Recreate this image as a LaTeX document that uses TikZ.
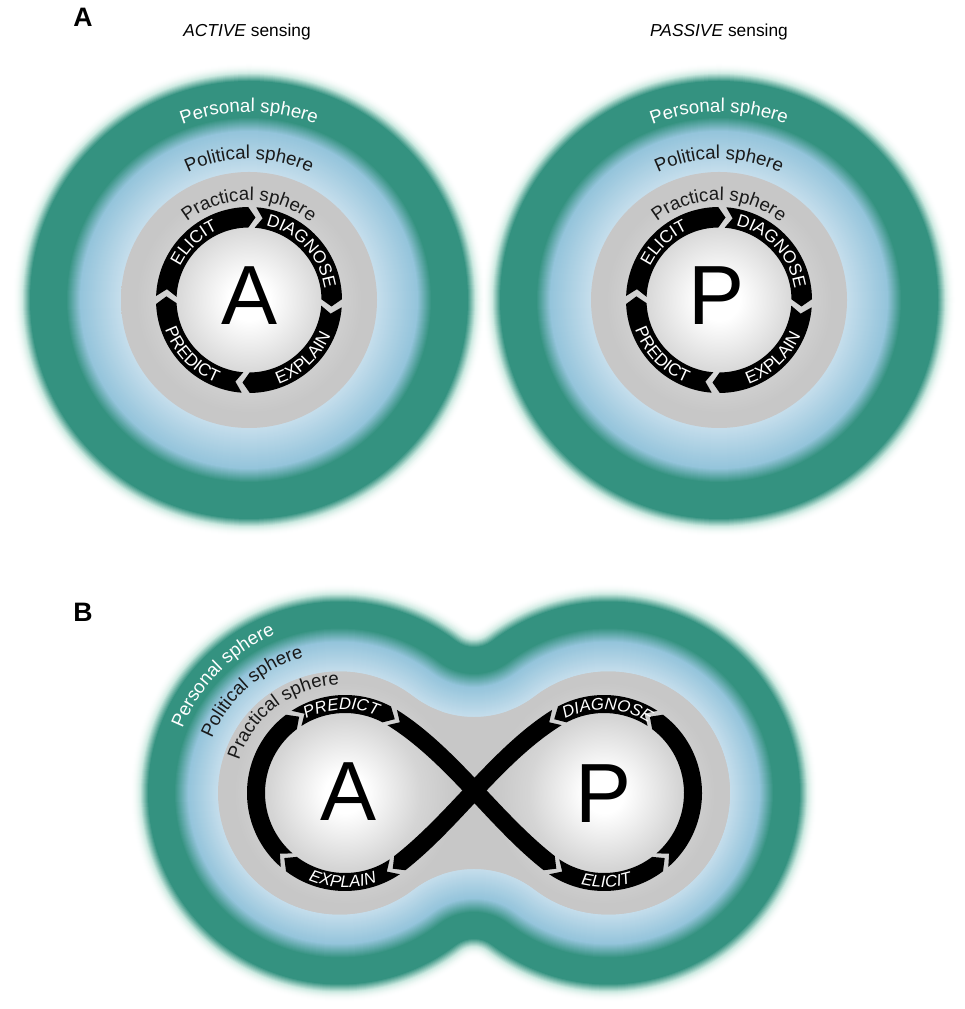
\documentclass[tikz,border=0pt]{standalone}
\usepackage{fontspec}
\setmainfont{Liberation Sans}
\setsansfont{Liberation Sans}
\usetikzlibrary{calc,decorations.text}
\definecolor{teal0}{RGB}{52,146,128}
\definecolor{glow0}{RGB}{205,234,225}
\definecolor{blue0}{RGB}{148,196,219}
\definecolor{blueL}{RGB}{198,222,236}
\definecolor{gray0}{RGB}{199,199,199}
\definecolor{ink}{RGB}{25,25,25}
\pgfdeclareradialshading{grayball}{\pgfpointorigin}{color(0bp)=(white); color(4bp)=(white); color(15bp)=(gray0!75!white); color(22bp)=(gray0); color(25bp)=(gray0); color(50bp)=(gray0)}
% colour of a layer at depth #1 below the outer edge; #2 teal width, #3 blue width
\newcommand\setlayercolor[3]{%
  \pgfmathsetmacro\lcd{#1}%
  \pgfmathsetmacro\lcT{#2}%
  \pgfmathsetmacro\lcU{#3}%
  \ifdim\lcd pt<-8pt
    \pgfmathsetmacro\lcp{100*((\lcd+18)/10)*((\lcd+18)/10)}%
    \colorlet{lc}{glow0!\lcp!white}%
  \else\ifdim\lcd pt<0pt
    \pgfmathsetmacro\lcp{100*((\lcd+8)/8)}%
    \colorlet{lc}{teal0!\lcp!glow0}%
  \else
    \pgfmathsetmacro\lca{\lcT-9}%
    \ifdim\lcd pt<\lca pt
      \colorlet{lc}{teal0}%
    \else
      \pgfmathsetmacro\lcb{\lcT+5}%
      \ifdim\lcd pt<\lcb pt
        \pgfmathsetmacro\lcp{100*(\lcb-\lcd)/14}%
        \colorlet{lc}{teal0!\lcp!blue0}%
      \else
        \pgfmathsetmacro\lcp{100*min(1,(\lcd-\lcb)/(\lcT+\lcU-\lcb))}%
        \colorlet{lc}{blueL!\lcp!blue0}%
      \fi
    \fi
  \fi\fi}
\newcommand\peanutcalc[1]{%
  \pgfmathsetmacro\pnR{191.5-(#1)}%
  \pgfmathsetmacro\pnr{max(30+(#1),0.5)}%
  \pgfmathsetmacro\pnh{10*sqrt(((\pnR+\pnr)/10)^2-180.9025)}%
  \pgfmathsetmacro\pnb{atan2(\pnh,134.5)}}
\newcommand\peanutpath{($(339.5,216)+(\pnb:\pnR)$) arc[start angle={180+\pnb},end angle={360-\pnb},radius=\pnr] arc[start angle={180-\pnb},end angle={\pnb-180},radius=\pnR] arc[start angle=\pnb,end angle={180-\pnb},radius=\pnr] arc[start angle={-\pnb},end angle={\pnb-360},radius=\pnR] -- cycle}
% curved arrow piece: centre, inner r, outer r, tail angle, head angle, tip offset
\newcommand\arcarrow[6]{%
  \fill[black] ($(#1)+(#4:#3)$) arc[start angle=#4,end angle=#5,radius=#3]
    -- ($(#1)+({#5-(#6)}:{(#2+#3)/2})$)
    -- ($(#1)+(#5:#2)$) arc[start angle=#5,end angle=#4,radius=#2]
    -- ($(#1)+({#4-(#6)}:{(#2+#3)/2})$) -- cycle;}
\newcommand\arctext[6]{%
  \path[decorate,decoration={text along path,text={|#5|#6},text align=center}]
    ($(#1)+(#3:#2)$) arc[start angle=#3,end angle=#4,radius=#2];}
\newcommand\sphfont{\fontsize{14}{16}\selectfont}
\newcommand\arrfont{\fontsize{13}{15}\selectfont}
\newcommand\arrfontB{\fontsize{12.5}{14}\selectfont\itshape}
\newcommand\bigfont{\fontsize{63}{70}\selectfont}
\begin{document}
\begin{tikzpicture}[x=0.75pt,y=0.75pt]
\useasboundingbox (0,0) rectangle (964,1009);
\fill[white] (0,0) rectangle (964,1009);
% ---------------- panel A ----------------
\coordinate (cA) at (249,709);
\coordinate (cP) at (719,709);
\foreach \d in {-18,...,90}{%
  \setlayercolor{\d}{45}{46}%
  \fill[lc] (cA) circle[radius={219-(\d)}];
  \fill[lc] (cP) circle[radius={219-(\d)}];
}
\foreach \c in {cA,cP}{%
  \shade[shading=grayball] (\c) circle[radius=128];
  \arcarrow{\c}{72.5}{93}{177.5}{90.5}{5}
  \arcarrow{\c}{72.5}{93}{85.5}{0.5}{5}
  \arcarrow{\c}{72.5}{93}{-4.5}{-89.5}{5}
  \arcarrow{\c}{72.5}{93}{-94.5}{-177.5}{5}
  \arctext{\c}{76.5}{175}{93}{\arrfont\color{white}}{ELICIT}
  \arctext{\c}{76.5}{84}{2}{\arrfont\color{white}}{DIAGNOSE}
  \arctext{\c}{89}{-88}{-6}{\arrfont\color{white}}{EXPLAIN}
  \arctext{\c}{89}{183}{265}{\arrfont\color{white}}{PREDICT}
  \arctext{\c}{188}{150}{30}{\sphfont\color{white}}{Personal sphere}
  \arctext{\c}{141}{150}{30}{\sphfont\color{ink}}{Political sphere}
  \arctext{\c}{99.5}{150}{30}{\sphfont\color{ink}}{Practical sphere}
}
\node[font=\bigfont] (bigA) at (250,713) {A};
\node[font=\bigfont] (bigP) at (717,713) {P};
\node[anchor=base,font=\fontsize{13}{15}\selectfont] (titleA) at (247,972) {\textit{ACTIVE} sensing};
\node[anchor=base,font=\fontsize{13}{15}\selectfont] (titleP) at (719,972) {\textit{PASSIVE} sensing};
\node[anchor=base,font=\bfseries\fontsize{20}{24}\selectfont] (labA) at (83,982) {A};
\node[anchor=base,font=\bfseries\fontsize{20}{24}\selectfont] (labB) at (83,387) {B};
% ---------------- panel B ----------------
\foreach \d in {-17,...,69}{%
  \setlayercolor{\d}{35}{35}%
  \peanutcalc{\d}%
  \fill[lc] \peanutpath;
}
\peanutcalc{70}
\fill[gray0] \peanutpath;
\coordinate (C1) at (342,216);
\coordinate (LA) at (345,216);
\coordinate (LP) at (604,216);
\begin{scope}
  \clip \peanutpath;
  \shade[shading=grayball] (LA) circle[radius=126];
  \shade[shading=grayball] (LP) circle[radius=126];
\end{scope}
% lobe arrows
\arcarrow{LA}{80}{98}{304}{233}{6}
\arcarrow{LA}{80}{98}{229}{127}{6}
\arcarrow{LA}{80}{98}{123}{62}{6}
\arcarrow{LP}{80}{98}{236}{307}{-6}
\arcarrow{LP}{80}{98}{311}{413}{-6}
\arcarrow{LP}{80}{98}{57}{118}{-6}
% crossing strands
\coordinate (s1) at ($(LA)+(58:89)$);
\coordinate (e1) at ($(LP)+(232:89)$);
\coordinate (c1) at ($(s1)+(-32:70)$);
\coordinate (c2) at ($(e1)+(142:70)$);
\fill[black] ($(s1)+(58:9)$) .. controls ($(c1)+(58:9)$) and ($(c2)+(52:9)$) .. ($(e1)+(52:9)$)
  -- ($(e1)+(-38:9)$) -- ($(e1)+(232:9)$)
  .. controls ($(c2)+(232:9)$) and ($(c1)+(238:9)$) .. ($(s1)+(238:9)$)
  -- ($(s1)+(-32:9)$) -- cycle;
\coordinate (s2) at ($(LP)+(122:89)$);
\coordinate (e2) at ($(LA)+(308:89)$);
\coordinate (c3) at ($(s2)+(212:70)$);
\coordinate (c4) at ($(e2)+(38:70)$);
\fill[black] ($(s2)+(302:9)$) .. controls ($(c3)+(302:9)$) and ($(c4)+(308:9)$) .. ($(e2)+(308:9)$)
  -- ($(e2)+(218:9)$) -- ($(e2)+(128:9)$)
  .. controls ($(c4)+(128:9)$) and ($(c3)+(122:9)$) .. ($(s2)+(122:9)$)
  -- ($(s2)+(212:9)$) -- cycle;
\arctext{LA}{83.5}{135}{50}{\arrfontB\color{white}}{PREDICT}
\arctext{LA}{94.5}{228}{309}{\arrfontB\color{white}}{EXPLAIN}
\arctext{LP}{83.5}{130}{45}{\arrfontB\color{white}}{DIAGNOSE}
\arctext{LP}{94.5}{231}{312}{\arrfontB\color{white}}{ELICIT}
\arctext{C1}{172}{175}{96}{\sphfont\color{white}}{Personal sphere}
\arctext{C1}{141}{171}{92}{\sphfont\color{ink}}{Political sphere}
\arctext{C1}{108}{167}{87}{\sphfont\color{ink}}{Practical sphere}
\node[font=\bigfont] (bigA2) at (349,217) {A};
\node[font=\bigfont] (bigP2) at (604,215) {P};
\end{tikzpicture}
\end{document}
